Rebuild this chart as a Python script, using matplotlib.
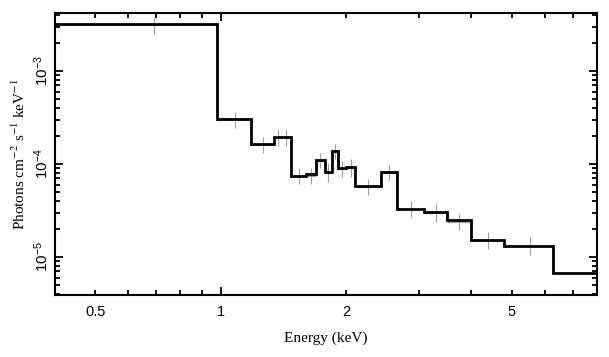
import matplotlib
matplotlib.use("Agg")
import matplotlib.pyplot as plt
from matplotlib.ticker import LogLocator, FixedLocator, FixedFormatter, NullFormatter
import numpy as np

# model step edges (keV) and folded model values
edges = [0.4, 0.98, 1.18, 1.34, 1.40, 1.476, 1.60, 1.69, 1.776, 1.853, 1.91,
         2.0, 2.10, 2.42, 2.65, 3.08, 3.50, 3.98, 4.78, 6.28, 8.0]
model = [3.18e-3, 3.04e-4, 1.65e-4, 1.97e-4, 1.93e-4, 7.45e-5, 7.77e-5, 1.10e-4,
         8.23e-5, 1.37e-4, 9.1e-5, 9.3e-5, 5.77e-5, 8.17e-5, 3.32e-5, 3.05e-5,
         2.48e-5, 1.54e-5, 1.31e-5, 6.67e-6]

# data points (bin centres), with lower / upper error-bar ends
data_e = [0.69, 1.08, 1.26, 1.37, 1.438, 1.538, 1.645, 1.733, 1.81, 1.88, 1.955,
          2.05, 2.26, 2.535, 2.865, 3.29, 3.74, 4.38, 5.53]
data_lo = [2.50e-3, 2.43e-4, 1.30e-4, 1.56e-4, 1.55e-4, 6.07e-5, 6.07e-5, 8.95e-5,
           6.43e-5, 1.12e-4, 7.28e-5, 7.28e-5, 4.62e-5, 6.53e-5, 2.66e-5, 2.38e-5,
           1.97e-5, 1.23e-5, 1.04e-5]
data_hi = [3.85e-3, 3.61e-4, 1.96e-4, 2.37e-4, 2.37e-4, 9.1e-5, 9.0e-5, 1.32e-4,
           1.02e-4, 1.64e-4, 1.07e-4, 1.12e-4, 6.98e-5, 9.73e-5, 4.01e-5, 3.70e-5,
           2.93e-5, 1.86e-5, 1.64e-5]
data_val = [3.10e-3, 2.96e-4, 1.60e-4, 1.92e-4, 1.92e-4, 7.4e-5, 7.4e-5, 1.09e-4,
            8.1e-5, 1.35e-4, 8.8e-5, 9.0e-5, 5.7e-5, 8.0e-5, 3.27e-5, 2.97e-5,
            2.40e-5, 1.51e-5, 1.30e-5]

x_ticks = [0.5, 1, 2, 5]
x_ticklabels = ["0.5", "1", "2", "5"]
y_ticks = [1e-5, 1e-4, 1e-3]
y_ticklabels = [r"$10^{-5}$", r"$10^{-4}$", r"$10^{-3}$"]

plt.rcParams["mathtext.fontset"] = "custom"
plt.rcParams["mathtext.rm"] = "Liberation Sans"
plt.rcParams["mathtext.it"] = "Liberation Sans:italic"
plt.rcParams["mathtext.bf"] = "Liberation Sans:bold"

fig = plt.figure(figsize=(6.09, 3.57), dpi=100)
ax = fig.add_axes([0.0903, 0.1737, 0.8897, 0.7907])

# data error bars
n = len(data_e)
xlo = [data_e[i] - edges[i] for i in range(n)]
xhi = [edges[i + 1] - data_e[i] for i in range(n)]
ylo = [data_val[i] - data_lo[i] for i in range(n)]
yhi = [data_hi[i] - data_val[i] for i in range(n)]
ax.errorbar(data_e, data_val, xerr=[xlo, xhi], yerr=[ylo, yhi], fmt="none",
            ecolor="#a0a0a0", elinewidth=0.8, capsize=0, zorder=1)

# model steps
ax.stairs(model, edges, baseline=None, color="black", linewidth=2.0, zorder=2)

ax.set_xscale("log")
ax.set_yscale("log")
ax.set_xlim(0.4, 8.0)
ax.set_ylim(3.9e-6, 4.24e-3)

ax.xaxis.set_major_locator(FixedLocator([1, 10]))
ax.xaxis.set_minor_locator(FixedLocator([0.4, 0.5, 0.6, 0.7, 0.8, 0.9, 2, 3, 4, 5, 6, 7, 8]))
ax.xaxis.set_major_formatter(NullFormatter())
ax.xaxis.set_minor_formatter(NullFormatter())
for xv, lab in zip(x_ticks, x_ticklabels):
    ax.text(xv, -0.035, lab, transform=ax.get_xaxis_transform(), ha="center", va="top",
            fontsize=10.5, family="Liberation Sans")

ax.yaxis.set_major_locator(FixedLocator(y_ticks))
ax.yaxis.set_major_formatter(FixedFormatter(y_ticklabels))
ax.yaxis.set_minor_locator(LogLocator(base=10, subs=np.arange(2, 10)))
ax.yaxis.set_minor_formatter(NullFormatter())

for s in ax.spines.values():
    s.set_linewidth(1.5)

ax.tick_params(which="both", direction="in", top=True, right=True, width=1.3)
ax.tick_params(which="major", length=6)
ax.tick_params(which="minor", length=3.5)
ax.tick_params(axis="y", which="major", labelrotation=90, pad=3, labelsize=11)
for lab in ax.get_yticklabels():
    lab.set_va("center")

ax.set_xlabel("Energy (keV)", family="Liberation Serif", fontsize=11, labelpad=23)
ylab = ax.set_ylabel(r"Photons cm$^{-2}$ s$^{-1}$ keV$^{-1}$", family="Liberation Serif",
                     fontsize=11, labelpad=3)
ylab.set_math_fontfamily("stix")

fig.savefig("out.png", dpi=100)
